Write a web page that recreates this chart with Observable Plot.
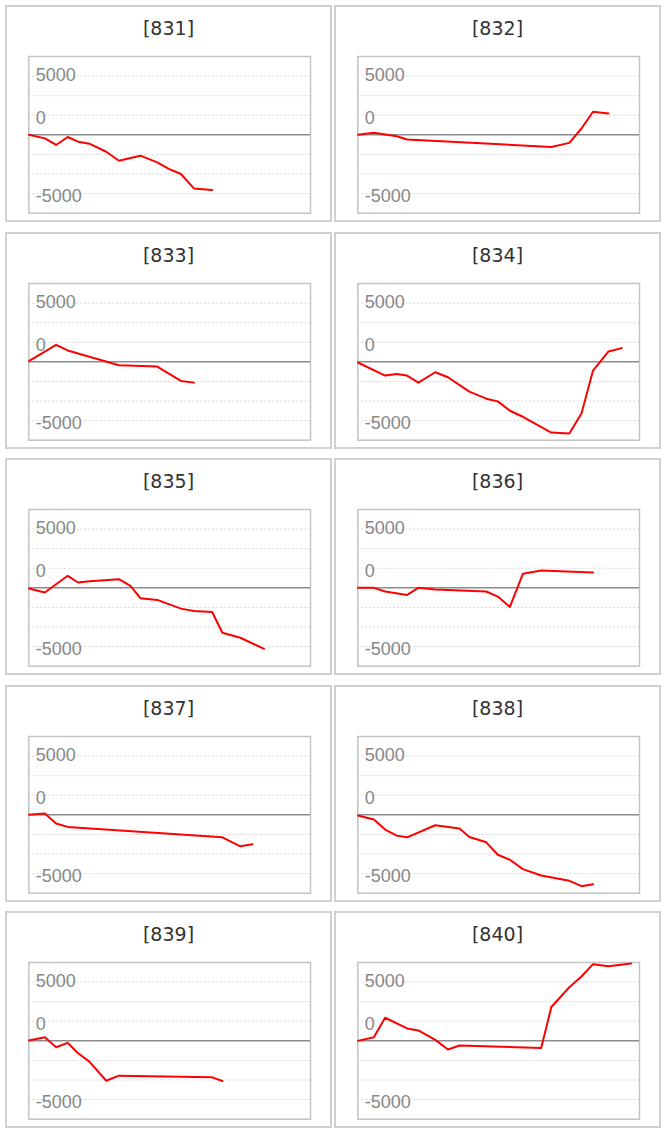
<!DOCTYPE html>
<html><head><meta charset="utf-8">
<script src="https://cdn.jsdelivr.net/npm/d3@7"></script>
<script src="https://cdn.jsdelivr.net/npm/@observablehq/plot@0.6"></script>
<style>
html,body{margin:0;padding:0;background:#fff}
body{width:665px;height:1132px;position:relative;overflow:hidden}
.panel{position:absolute;width:327px;height:217px;border:2px solid #d0d0d0;box-sizing:border-box;background:#fff}
.title{position:absolute;left:0;right:0;top:9px;text-align:center;font-family:"DejaVu Sans",Verdana,sans-serif;font-size:19px;line-height:24px;color:#333}
.panel svg{position:absolute;left:0;top:0}
</style></head><body>
<script>
// Shared x positions (day offsets along the period)
const days = [0, 5.7, 9.7, 13.8, 17.5, 21.5, 27.5, 32.0, 36.1, 39.6, 45.6, 49.7, 54.0, 58.6, 65.1, 68.7, 75.1, 79.4, 83.5, 89.0, 93.7, 97.0];

const panelIds = ["831", "832", "833", "834", "835", "836", "837", "838", "839", "840"];

const s831 = [0, -300, -860, -180, -580, -750, -1440, -2200, null, -1770, -2340, -2900, -3330, -4560, -4700, null, null, null, null, null, null, null];
const s832 = [0, 171, null, -114, -400, null, null, null, null, null, null, null, null, null, null, -1030, -684, 541, 1967, 1824, null, null];
const s833 = [57, null, 1450, 969, null, null, null, -285, null, null, -400, null, -1624, -1767, null, null, null, null, null, null, null, null];
const s834 = [-57, null, -1170, -1026, -1170, -1767, -884, -1311, null, -2536, -3135, -3363, -4161, -4674, null, -6013, -6099, -4389, -741, 884, 1169, null];
const s835 = [-57, -399, null, 1026, 456, 570, null, 741, 171, -884, -1026, null, -1767, -1967, -2052, -3819, -4247, null, -5187, null, null, null];
const s836 = [0, 0, -314, null, -599, 0, -143, null, null, null, -314, -741, -1625, 1197, 1482, null, null, null, 1311, null, null, null];
const s837 = [0, 114, -741, -1026, null, null, null, null, null, null, null, null, null, null, null, -1910, -2679, -2508, null, null, null, null];
const s838 = [-57, -399, -1254, -1767, -1910, null, -884, null, -1168, -1881, -2337, -3392, -3819, -4617, -5159, null, -5615, -6071, -5900, null, null, null];
const s839 = [28, 314, -541, -171, -1054, -1767, -3392, -2964, null, null, null, null, null, null, -3107, -3420, null, null, null, null, null, null];
const s840 = [0, 314, 1966, null, 1054, 883, 86, -741, -399, null, null, null, null, null, -599, 2878, 4560, 5472, 6527, 6356, null, 6584];

const seriesList = [s831, s832, s833, s834, s835, s836, s837, s838, s839, s840];

const tickLabels = [5000, 0, -5000];
const gridStep = 5000 / 3;

const colLeft = [5, 334];
const rowTop0 = 5, rowPitch = 226.6;

panelIds.forEach((id, i) => {
  const col = i % 2, row = Math.floor(i / 2);
  const div = document.createElement("div");
  div.className = "panel";
  div.style.left = colLeft[col] + "px";
  div.style.top = (rowTop0 + row * rowPitch) + "px";
  const t = document.createElement("div");
  t.className = "title";
  t.textContent = "[" + id + "]";
  div.appendChild(t);

  const data = days.map((d, k) => ({day: d, value: seriesList[i][k]})).filter(r => r.value != null);
  const grid = [-3, -2, -1, 1, 2, 3].map(k => k * gridStep);
  const labelFont = {textAnchor: "start", dx: 7, fontSize: 18, fill: "#878787", fontFamily: "Liberation Sans, Arial, sans-serif"};

  const chart = Plot.plot({
    width: 323,
    height: 213,
    marginLeft: 21.3,
    marginRight: 20,
    marginTop: 49,
    marginBottom: 7.3,
    style: {background: "transparent", overflow: "visible"},
    x: {domain: [0, 100], axis: null},
    y: {domain: [-4 * gridStep, 4 * gridStep], axis: null},
    marks: [
      Plot.ruleY(grid, {stroke: "#d6d6d6", strokeWidth: 1, strokeDasharray: "2,2"}),
      Plot.frame({stroke: "#c4c4c4", strokeWidth: 1.5}),
      Plot.ruleY([0], {stroke: "#8c8c8c", strokeWidth: 1.5}),
      Plot.text(tickLabels.filter(v => v > 0), {x: 0, y: d => d, text: d => String(d), dy: -1, ...labelFont}),
      Plot.text(tickLabels.filter(v => v === 0), {x: 0, y: () => gridStep, text: d => String(d), dy: 3, ...labelFont}),
      Plot.text(tickLabels.filter(v => v < 0), {x: 0, y: d => d, text: d => String(d), dy: 2.5, ...labelFont}),
      Plot.line(data, {x: "day", y: "value", stroke: "#ff0000", strokeWidth: 2, clip: true})
    ]
  });
  div.appendChild(chart);
  document.body.appendChild(div);
});
</script>
</body></html>
